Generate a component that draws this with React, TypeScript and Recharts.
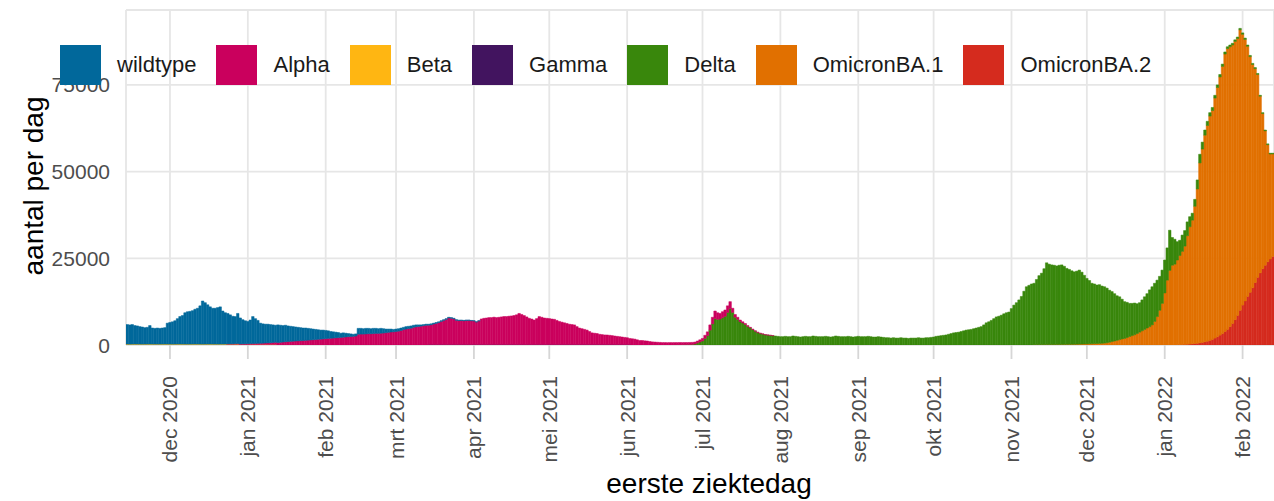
import { BarChart, Bar, XAxis, YAxis, CartesianGrid } from 'recharts';

// day 0 = 14 nov 2020, last day = 13 feb 2022
const dayCount = 457;

const monthTicks = [17, 48, 79, 107, 138, 168, 199, 229, 260, 291, 321, 352, 382, 413, 444];
const monthLabels = [
  'dec 2020', 'jan 2021', 'feb 2021', 'mrt 2021', 'apr 2021', 'mei 2021', 'jun 2021', 'jul 2021',
  'aug 2021', 'sep 2021', 'okt 2021', 'nov 2021', 'dec 2021', 'jan 2022', 'feb 2022',
];
const yTicks = [0, 25000, 50000, 75000];

// cases per day, each series starts at its own day index
const wildtypeStart = 0;
const wildtype = [
  5650, 5550, 5650, 5350, 5250, 5050, 4950, 4750, 4850, 5350,
  4650, 4550, 4650, 4550, 4650, 4750, 6050, 6250, 6450, 6750,
  7350, 7950, 8250, 9050, 9350, 9450, 9650, 10050, 10350, 11050,
  12450, 11950, 11350, 10750, 10350, 10350, 10550, 10750, 9550, 9050,
  8800, 8390, 7970, 7850, 8730, 7500, 6980, 6660, 6450, 6820,
  7780, 7160, 6630, 5800, 5570, 5430, 5390, 5250, 5080, 4910,
  5090, 4920, 4750, 4780, 4500, 4350, 4200, 4050, 3900, 3750,
  3600, 3550, 3400, 3240, 3080, 2920, 2760, 2600, 2540, 2370,
  2200, 1950, 1800, 1640, 1480, 1220, 1250, 1080, 900, 750,
  600, 600, 1700, 1650, 1550, 1600, 1550, 1450, 1500, 1450,
  1350, 1400, 1250, 1050, 950, 850, 700, 700, 700, 700,
  650, 700, 650, 650, 600, 550, 450, 350, 300, 300,
  280, 260, 250, 240, 230, 220, 200, 190, 180, 170,
  160, 150, 140, 130, 120, 110, 100, 90, 80, 70, 60,
];

const alphaStart = 40;
const alpha = [
  50, 60, 80, 100, 120, 150, 170, 190, 200, 230,
  270, 290, 320, 350, 380, 420, 460, 500, 570, 640,
  710, 780, 850, 920, 1000, 1050, 1100, 1150, 1200, 1250,
  1300, 1350, 1400, 1460, 1520, 1580, 1640, 1700, 1760, 1830,
  1900, 1950, 2000, 2060, 2120, 2180, 2250, 2320, 2400, 2450,
  2500, 2600, 3100, 3150, 3150, 3200, 3250, 3250, 3300, 3350,
  3350, 3400, 3450, 3550, 3650, 3750, 3800, 3900, 4000, 4200,
  4450, 4600, 4750, 4850, 5100, 5250, 5350, 5450, 5600, 5700,
  5600, 5720, 5930, 6140, 6350, 6660, 6980, 7290, 7700, 7610,
  7420, 7030, 6940, 6950, 6860, 6970, 6980, 6890, 6800, 6510,
  6820, 7380, 7580, 7680, 7780, 7780, 7880, 7780, 7880, 7980,
  8080, 8080, 8180, 8280, 8380, 8580, 8980, 8680, 8380, 7980,
  7580, 7380, 7080, 7480, 8080, 7880, 7680, 7580, 7480, 7380,
  7280, 6980, 6680, 6480, 6280, 6080, 5880, 5780, 5680, 5180,
  4780, 4580, 4380, 4180, 3780, 3380, 3280, 3180, 2980, 2880,
  2780, 2780, 2680, 2580, 2480, 2380, 2280, 2180, 2080, 1980,
  1780, 1800, 1700, 1500, 1300, 1300, 1200, 1150, 1000, 900,
  850, 800, 750, 700, 700, 680, 700, 690, 680, 670,
  680, 650, 630, 610, 600, 580, 550, 550, 600, 700,
  900, 1100, 1500, 1900, 2200, 1900, 1600, 1700, 1800, 1900,
  2000, 1200, 800, 600, 450, 350, 280, 220, 180, 140,
  110, 80, 60, 50, 40, 30, 20, 10,
];

const betaStart = 0;
const beta = [
  250, 240, 250, 260, 250, 250, 240, 250, 250, 260,
  250, 250, 240, 250, 250, 260, 250, 250, 240, 250,
  250, 260, 250, 250, 240, 250, 250, 260, 250, 250,
  240, 250, 250, 260, 250, 250, 240, 250, 250, 260,
  250, 250, 240, 250, 250, 150, 150, 140, 150, 160,
  150, 150, 140, 150, 150, 160, 150, 140, 150, 150,
];

const gammaStart = 120;
const gamma = [
  120, 130, 120, 110, 120, 140, 120, 120, 110, 120,
  130, 120, 110, 120, 130, 120, 120, 110, 130, 120,
  120, 130, 120, 110, 120, 120, 140, 120, 110, 120,
  130, 120, 120, 110, 120, 130, 120, 130, 110, 120,
  120, 110, 120, 130, 120, 120, 110, 120, 140, 120,
  130, 120, 120, 110, 120, 130, 120, 120, 110, 120,
  110, 120, 130, 120, 110, 120, 120, 130, 110, 120,
  120, 110, 120, 130, 120, 110, 120, 120, 110, 120,
  110,
];

const deltaStart = 218;
const delta = [
  20, 30, 40, 50, 80, 100, 130, 180, 300,
  600, 900, 1200, 1900, 2700, 4300, 6100, 7600, 7400, 7500,
  7900, 8300, 9400, 10500, 9400, 8000, 7400, 6750, 6350, 5920,
  5380, 4920, 4460, 3990, 3620, 3340, 3150, 2960, 2870, 2780, 2690,
  2600, 2500, 2400,
  2400, 2500, 2400, 2400, 2600, 2500, 2400, 2300, 2400, 2500,
  2400, 2400, 2600, 2500, 2400, 2400, 2400, 2500, 2400, 2300,
  2400, 2600, 2500, 2400, 2400, 2400, 2500, 2400, 2300, 2400,
  2500, 2400, 2400, 2400, 2500, 2400, 2300, 2300, 2400, 2300,
  2200, 2100, 2100, 2000, 2100, 2000, 2000, 2100, 2000, 2000,
  1900, 2000, 2000, 2000, 2100, 2000, 2000, 2100, 2100, 2200,
  2300, 2500, 2600, 2700, 2800, 2900, 3100, 3300, 3500, 3600,
  3700, 3900, 4100, 4300, 4400, 4500, 4700, 4900, 5100, 5300,
  5800, 6400, 6700, 7100, 7600,
  8100, 8300, 8600, 9000, 9300, 9500, 10500, 11500, 12200, 13000,
  14000, 15500, 16800, 17200, 17600,
  17750, 18840, 19930, 20620, 21910, 23600, 23190, 22980, 22870, 22660,
  22850, 22940, 22530, 21920, 21610, 21200, 20890, 21070, 21350, 20730,
  19810, 18890, 18260, 17430,
  17200, 16870, 16940, 16510, 16250, 15750, 15000, 14400, 13650, 12850,
  12350, 11450, 10600, 10150, 9550, 9300, 9150, 8600, 8500, 8900,
  9400, 9900, 10600, 11000, 11000, 10500, 9800, 9600,
  9500, 9300, 11600, 8000, 7200, 5300, 4400, 4700, 4500, 4000,
  2900, 2000, 2000, 2600, 2500, 2000, 1500, 1200,
  1000, 900, 800, 750, 700, 650, 600, 550, 500, 480,
  460, 440, 420, 400, 380, 360, 340, 320, 300, 280,
  260, 250, 240, 230, 220, 210,
];

const ba1Start = 361;
const ba1 = [
  50, 60, 70, 80, 90, 100, 110, 120, 130, 140,
  150, 160, 170, 180, 190, 200, 210, 230, 250, 270,
  290, 310, 340, 370, 400, 430, 460, 490, 550, 650,
  800, 1000, 1150, 1350, 1550, 1750, 1900, 2150, 2450, 2700,
  2950, 3300, 3700, 4100, 4500, 4900, 5300, 5800, 6800, 8200,
  10000, 12000, 15000, 18700, 21500, 23000, 23300,
  24450, 25730, 26900, 28350, 31300, 33830, 35650, 39580, 44500, 51880,
  55750, 59580, 62200,
  64650, 66000, 69200, 71850, 74450, 77050, 80000, 80950, 80700, 80320,
  80240, 79860, 80880, 78100, 75420, 72140, 67960, 64380, 61700, 58520,
  50940, 44750, 38760, 33770, 30280, 29590,
];

const ba2Start = 418;
const ba2 = [
  50, 70, 100, 150, 200, 270, 350, 420, 500, 620,
  750, 920, 1100, 1350, 1600, 2000, 2400, 2850, 3300, 3900,
  4500, 5300, 6200, 7300, 8500, 10000, 11500, 12700, 14000, 15200,
  16500, 18000, 19500, 20800, 22000, 23000, 24000, 24800, 25500,
];

// legend order (top of the stack first)
const variants = [
  { key: 'wildtype', label: 'wildtype', color: '#01689b', start: wildtypeStart, values: wildtype },
  { key: 'alpha', label: 'Alpha', color: '#ca005d', start: alphaStart, values: alpha },
  { key: 'beta', label: 'Beta', color: '#ffb612', start: betaStart, values: beta },
  { key: 'gamma', label: 'Gamma', color: '#42145f', start: gammaStart, values: gamma },
  { key: 'delta', label: 'Delta', color: '#39870c', start: deltaStart, values: delta },
  { key: 'ba1', label: 'OmicronBA.1', color: '#e17000', start: ba1Start, values: ba1 },
  { key: 'ba2', label: 'OmicronBA.2', color: '#d52b1e', start: ba2Start, values: ba2 },
];

const rows = Array.from({ length: dayCount }, (_, day) => {
  const row: Record<string, number> = { day };
  for (const v of variants) {
    const i = day - v.start;
    row[v.key] = i >= 0 && i < v.values.length ? v.values[i] : 0;
  }
  return row;
});

const FONT = '"Liberation Sans", Arial, Helvetica, sans-serif';

function XTick({ x, payload }: any) {
  const label = monthLabels[monthTicks.indexOf(payload.value)];
  return (
    <text
      transform={`translate(${x},376) rotate(-90)`}
      textAnchor="end"
      dominantBaseline="central"
      fontSize={21}
      fill="#4d4d4d"
    >
      {label}
    </text>
  );
}

function YTick({ y, payload }: any) {
  return (
    <text x={110} y={y} textAnchor="end" dominantBaseline="central" fontSize={21} fill="#4d4d4d">
      {payload.value}
    </text>
  );
}

export default function App() {
  // ggplot stacks the first level on top, so draw in reverse
  const stackOrder = [...variants].reverse();

  return (
    <div style={{ position: 'relative', width: 1274, height: 501, fontFamily: FONT, background: '#fff' }}>
      <style>{'body{margin:0}'}</style>
      <BarChart
        width={1274}
        height={501}
        data={rows}
        margin={{ top: 10, right: 0, bottom: 0, left: 0 }}
        barCategoryGap={0}
        barGap={0}
        barSize={2.5}
      >
        <CartesianGrid stroke="#e6e6e6" strokeWidth={1.8} />
        <XAxis
          dataKey="day"
          type="number"
          domain={[-0.5, dayCount - 0.5]}
          ticks={monthTicks}
          interval={0}
          height={156}
          axisLine={false}
          tickSize={14}
          tickLine={{ stroke: '#d6d6d6', strokeWidth: 1.8 }}
          tick={XTick}
          allowDataOverflow
        />
        <YAxis
          type="number"
          domain={[0, 96600]}
          ticks={yTicks}
          interval={0}
          width={126}
          axisLine={false}
          tickLine={false}
          tick={YTick}
          allowDataOverflow
        />
        {stackOrder.map((v) => (
          <Bar
            key={v.key}
            dataKey={v.key}
            stackId="a"
            fill={v.color}
            stroke={v.color}
            strokeWidth={0.5}
            isAnimationActive={false}
          />
        ))}
      </BarChart>

      <svg width={1274} height={501} style={{ position: 'absolute', left: 0, top: 0, pointerEvents: 'none' }}>
        <text
          transform="translate(33,186) rotate(-90)"
          textAnchor="middle"
          dominantBaseline="central"
          fontSize={28}
          fill="#000"
        >
          aantal per dag
        </text>
        <text x={709} y={493} textAnchor="middle" fontSize={28} fill="#000">
          eerste ziektedag
        </text>
      </svg>

      <div
        style={{
          position: 'absolute',
          left: 60,
          top: 45,
          display: 'flex',
          alignItems: 'center',
          height: 40,
          pointerEvents: 'none',
        }}
      >
        {variants.map((v) => (
          <div key={v.key} style={{ display: 'flex', alignItems: 'center', marginRight: 20 }}>
            <div style={{ width: 41, height: 40, background: v.color, marginRight: 16 }} />
            <span style={{ fontSize: 22, color: '#1a1a1a', whiteSpace: 'nowrap' }}>{v.label}</span>
          </div>
        ))}
      </div>
    </div>
  );
}
